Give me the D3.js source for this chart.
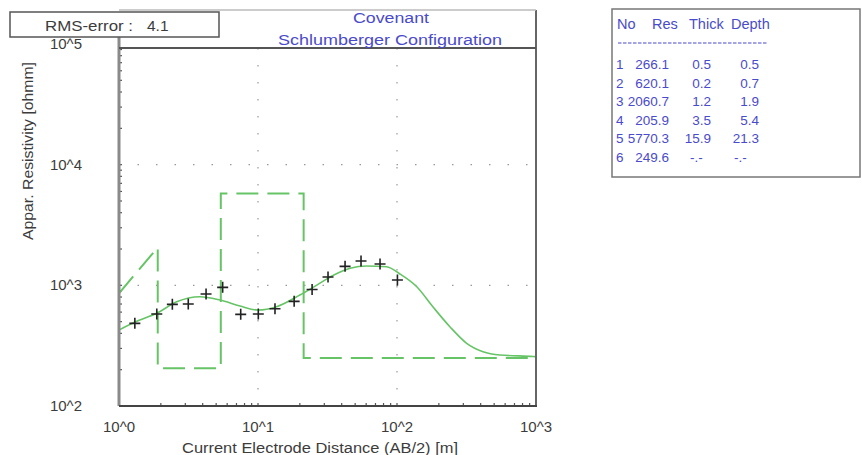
<!DOCTYPE html>
<html lang="en">
<head>
  <meta charset="UTF-8">
  <title>Covenant - Schlumberger Configuration</title>
  <script src="https://d3js.org/d3.v7.min.js"></script>
  <style>
    body { margin: 0; background: #fff; }
    svg { font-family: "Liberation Sans", Arial, sans-serif; }
  </style>
</head>
<body>
<div id="chart"></div>
<script>
  // Field measurements (AB/2 in m, apparent resistivity in ohmm)
  const measuredAB = [1.3, 1.87, 2.42, 3.15, 4.23, 5.57, 7.51, 10.05, 13.25, 18.2, 24.5, 31.9, 42.3, 55.1, 75.5, 100.7];
  const measuredRho = [484, 578, 696, 700, 847, 962, 575, 578, 640, 737, 923, 1172, 1436, 1590, 1501, 1106];

  // Calculated sounding curve (solid)
  const curveAB = [1, 1.3, 1.87, 2.6, 3.82, 5.33, 7.42, 10, 13.6, 20, 26.5, 34.6, 46, 60.6, 84.2, 105, 138.8, 181, 240, 317, 416, 551, 955, 1000];
  const curveRho = [426, 497, 586, 731, 805, 755, 674, 624, 665, 831, 1005, 1206, 1383, 1445, 1426, 1241, 973, 665, 454, 331, 282, 265, 257, 256];

  // Layer model drawn as dashed line (depth in m, resistivity in ohmm)
  const modelDepth = [1, 1.9, 1.9, 5.4, 5.4, 21.3, 21.3, 1000];
  const modelRho = [860, 2060.7, 205.9, 205.9, 5770.3, 5770.3, 249.6, 249.6];

  // Layer table
  const layerNo = ['1', '2', '3', '4', '5', '6'];
  const layerRes = ['266.1', '620.1', '2060.7', '205.9', '5770.3', '249.6'];
  const layerThick = ['0.5', '0.2', '1.2', '3.5', '15.9', '-.-'];
  const layerDepth = ['0.5', '0.7', '1.9', '5.4', '21.3', '-.-'];

  const xTickLabels = ['10^0', '10^1', '10^2', '10^3'];
  const yTickLabels = ['10^2', '10^3', '10^4', '10^5'];
  const rmsError = '4.1';

  const W = 862, H = 455;
  const plotL = 119, plotR = 536, plotT = 44, plotB = 406;
  const green = '#66c466';
  const blue = '#4a4acc';
  const gray = '#3c3c3c';

  const svg = d3.select('#chart').append('svg')
    .attr('width', W).attr('height', H);

  const x = d3.scaleLog().domain([1, 1000]).range([plotL, plotR]);
  const y = d3.scaleLog().domain([100, 100000]).range([plotB, plotT]);

  svg.append('defs').append('clipPath').attr('id', 'plot-clip')
    .append('rect')
    .attr('x', plotL).attr('y', 48)
    .attr('width', plotR - plotL).attr('height', plotB - 48);

  // decade grid (dotted)
  [10, 100].forEach(v => {
    svg.append('line')
      .attr('x1', x(v)).attr('x2', x(v))
      .attr('y1', 48).attr('y2', plotB)
      .attr('stroke', '#999').attr('stroke-width', 1.2)
      .attr('stroke-dasharray', '1.5,15.5');
  });
  [1000, 10000].forEach(v => {
    svg.append('line')
      .attr('x1', plotL).attr('x2', plotR)
      .attr('y1', y(v)).attr('y2', y(v))
      .attr('stroke', '#999').attr('stroke-width', 1.2)
      .attr('stroke-dasharray', '1.5,17');
  });

  // minor ticks on bottom and left axes
  const xMinor = x.ticks().filter(v => v > 1 && v < 1000);
  svg.append('g').selectAll('line').data(xMinor).enter().append('line')
    .attr('x1', d => x(d)).attr('x2', d => x(d))
    .attr('y1', plotB).attr('y2', plotB - 3)
    .attr('stroke', '#555').attr('stroke-width', 1.2);
  const yMinor = y.ticks().filter(v => v > 100 && v < 100000);
  svg.append('g').selectAll('line').data(yMinor).enter().append('line')
    .attr('x1', plotL).attr('x2', plotL + 3)
    .attr('y1', d => y(d)).attr('y2', d => y(d))
    .attr('stroke', '#555').attr('stroke-width', 1.2);

  const plot = svg.append('g').attr('clip-path', 'url(#plot-clip)');

  // layer model (dashed)
  const modelPts = modelDepth.map((d, i) => [d, modelRho[i]]);
  plot.append('path')
    .datum(modelPts)
    .attr('fill', 'none')
    .attr('stroke', green)
    .attr('stroke-width', 2)
    .attr('stroke-dasharray', '22,9')
    .attr('d', d3.line().x(d => x(d[0])).y(d => y(d[1])));

  // calculated curve
  const curvePts = curveAB.map((d, i) => [d, curveRho[i]]);
  plot.append('path')
    .datum(curvePts)
    .attr('fill', 'none')
    .attr('stroke', green)
    .attr('stroke-width', 1.6)
    .attr('d', d3.line().curve(d3.curveMonotoneX).x(d => x(d[0])).y(d => y(d[1])));

  // measured points
  plot.selectAll('.pt')
    .data(measuredAB.map((d, i) => [d, measuredRho[i]]))
    .enter().append('path')
    .attr('class', 'pt')
    .attr('transform', d => `translate(${x(d[0])},${y(d[1])})`)
    .attr('d', 'M-5.5,0H5.5M0,-5.5V5.5')
    .attr('stroke', '#222')
    .attr('stroke-width', 1.6);

  // frame
  svg.append('line').attr('x1', plotL).attr('x2', plotL).attr('y1', 12).attr('y2', plotB)
    .attr('stroke', '#8a8a8a').attr('stroke-width', 3);
  svg.append('line').attr('x1', plotR).attr('x2', plotR).attr('y1', 10).attr('y2', plotB + 1)
    .attr('stroke', '#666').attr('stroke-width', 2);
  svg.append('line').attr('x1', plotL).attr('x2', plotR).attr('y1', 48).attr('y2', 48)
    .attr('stroke', '#555').attr('stroke-width', 2);
  svg.append('line').attr('x1', plotL).attr('x2', plotR + 1).attr('y1', plotB).attr('y2', plotB)
    .attr('stroke', '#444').attr('stroke-width', 2);
  svg.append('line').attr('x1', plotL).attr('x2', plotR).attr('y1', 10).attr('y2', 10)
    .attr('stroke', '#bbb').attr('stroke-width', 1.5);

  // title
  svg.append('text').attr('x', 391).attr('y', 23)
    .attr('text-anchor', 'middle').attr('fill', blue).attr('font-size', 15.5)
    .attr('textLength', 76).attr('lengthAdjust', 'spacingAndGlyphs')
    .text('Covenant');
  svg.append('text').attr('x', 390).attr('y', 45)
    .attr('text-anchor', 'middle').attr('fill', blue).attr('font-size', 15.5)
    .attr('textLength', 224).attr('lengthAdjust', 'spacingAndGlyphs')
    .text('Schlumberger Configuration');

  // RMS box
  svg.append('rect').attr('x', 10).attr('y', 12).attr('width', 209).attr('height', 25)
    .attr('fill', '#fff').attr('stroke', '#555').attr('stroke-width', 1.5);
  svg.append('text').attr('x', 45).attr('y', 31)
    .attr('fill', gray).attr('font-size', 15.5)
    .attr('textLength', 88).attr('lengthAdjust', 'spacingAndGlyphs')
    .text('RMS-error :');
  svg.append('text').attr('x', 147).attr('y', 31)
    .attr('fill', gray).attr('font-size', 15.5)
    .text(rmsError);

  // tick labels
  const decadesX = [1, 10, 100, 1000];
  svg.append('g').selectAll('text').data(decadesX).enter().append('text')
    .attr('x', d => x(d)).attr('y', 432)
    .attr('text-anchor', 'middle').attr('fill', gray).attr('font-size', 15)
    .text((d, i) => xTickLabels[i]);
  const decadesY = [100, 1000, 10000, 100000];
  svg.append('g').selectAll('text').data(decadesY).enter().append('text')
    .attr('x', 82).attr('y', d => y(d) + 5)
    .attr('text-anchor', 'end').attr('fill', gray).attr('font-size', 15)
    .text((d, i) => yTickLabels[i]);

  // axis titles
  svg.append('text').attr('x', 320).attr('y', 453)
    .attr('text-anchor', 'middle').attr('fill', gray).attr('font-size', 15.5)
    .attr('textLength', 276).attr('lengthAdjust', 'spacingAndGlyphs')
    .text('Current Electrode Distance (AB/2) [m]');
  svg.append('text')
    .attr('transform', 'translate(33,151) rotate(-90)')
    .attr('text-anchor', 'middle').attr('fill', gray).attr('font-size', 15)
    .attr('textLength', 178).attr('lengthAdjust', 'spacingAndGlyphs')
    .text('Appar. Resistivity [ohmm]');

  // layer table
  const tbl = svg.append('g');
  tbl.append('rect').attr('x', 612).attr('y', 9).attr('width', 248).attr('height', 168)
    .attr('fill', '#fff').attr('stroke', '#777').attr('stroke-width', 1.5);
  const hdr = [['No', 617], ['Res', 652], ['Thick', 689], ['Depth', 731]];
  hdr.forEach(h => {
    tbl.append('text').attr('x', h[1]).attr('y', 29)
      .attr('fill', blue).attr('font-size', 14.5).text(h[0]);
  });
  tbl.append('line').attr('x1', 618).attr('x2', 768).attr('y1', 43).attr('y2', 43)
    .attr('stroke', blue).attr('stroke-width', 1.2).attr('stroke-dasharray', '3.5,1.5');
  layerNo.forEach((n, i) => {
    const ty = 69 + i * 18.5;
    tbl.append('text').attr('x', 616).attr('y', ty).attr('fill', blue).attr('font-size', 13.5).text(n);
    tbl.append('text').attr('x', 669).attr('y', ty).attr('text-anchor', 'end').attr('fill', blue).attr('font-size', 13.5).text(layerRes[i]);
    tbl.append('text').attr('x', layerThick[i] === '-.-' ? 690 : 711).attr('y', ty)
      .attr('text-anchor', layerThick[i] === '-.-' ? 'start' : 'end').attr('fill', blue).attr('font-size', 13.5).text(layerThick[i]);
    tbl.append('text').attr('x', layerDepth[i] === '-.-' ? 734 : 759).attr('y', ty)
      .attr('text-anchor', layerDepth[i] === '-.-' ? 'start' : 'end').attr('fill', blue).attr('font-size', 13.5).text(layerDepth[i]);
  });
</script>
</body>
</html>
